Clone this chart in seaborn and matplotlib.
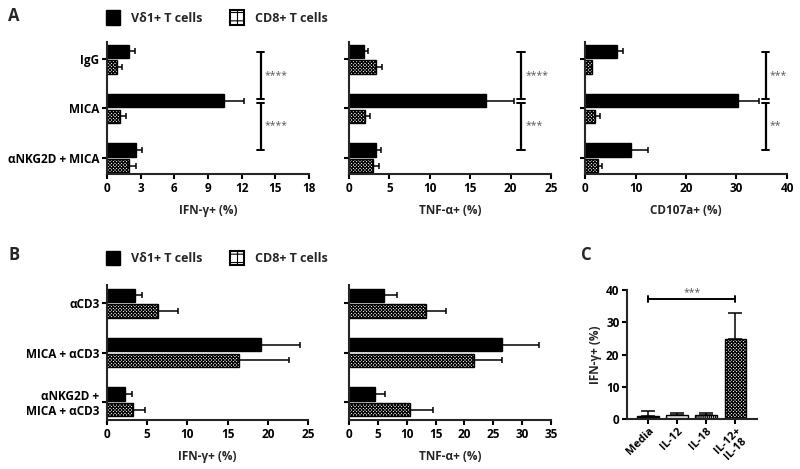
import numpy as np
import pandas as pd
import matplotlib
matplotlib.use("Agg")
import matplotlib.pyplot as plt
from matplotlib.patches import Patch
from matplotlib.container import BarContainer
import seaborn as sns

# ---------------- data ----------------
cells = ["Vδ1+ T cells", "CD8+ T cells"]

condA = ["IgG", "MICA", "αNKG2D + MICA"]
ifnA_v = [2.0, 10.4, 2.6]
ifnA_v_sem = [0.5, 1.8, 0.5]
ifnA_c = [0.9, 1.2, 2.0]
ifnA_c_sem = [0.4, 0.5, 0.6]

tnfA_v = [1.9, 16.9, 3.4]
tnfA_v_sem = [0.5, 3.5, 0.6]
tnfA_c = [3.3, 2.0, 3.0]
tnfA_c_sem = [0.8, 0.55, 0.7]

cdA_v = [6.3, 30.2, 9.2]
cdA_v_sem = [1.3, 4.3, 3.2]
cdA_c = [1.3, 1.9, 2.5]
cdA_c_sem = [0.0, 1.0, 0.9]

condB = ["αCD3", "MICA + αCD3", "αNKG2D +\nMICA + αCD3"]
ifnB_v = [3.5, 19.1, 2.2]
ifnB_v_sem = [0.9, 4.9, 0.9]
ifnB_c = [6.3, 16.4, 3.2]
ifnB_c_sem = [2.5, 6.2, 1.5]

tnfB_v = [6.0, 26.5, 4.45]
tnfB_v_sem = [2.4, 6.4, 1.8]
tnfB_c = [13.3, 21.6, 10.6]
tnfB_c_sem = [3.5, 4.9, 4.0]

condC = ["Media", "IL-12", "IL-18", "IL-12+\nIL-18"]
ifnC = [1.0, 1.2, 1.1, 24.7]
ifnC_sem = [1.5, 0.8, 0.85, 8.3]

starsA = [("****", "****"), ("****", "***"), ("***", "**")]

# ---------------- style ----------------
sns.set_theme(style="ticks")
plt.rcParams["font.family"] = ["Open Sans", "DejaVu Sans"]
plt.rcParams["font.weight"] = "bold"
plt.rcParams["hatch.linewidth"] = 0.8
plt.rcParams["axes.linewidth"] = 1.5
FS = 8.5
CHECK = "xxxxxxxxxx"

fig = plt.figure(figsize=(8, 4.69), dpi=100)
W, H = 800.0, 469.0


def add_ax(x0, x1, ytop, ybot):
    return fig.add_axes([x0 / W, 1 - ybot / H, (x1 - x0) / W, (ybot - ytop) / H])


def style_ax(ax):
    sns.despine(ax=ax)
    ax.tick_params(axis="both", direction="out", length=3.5, width=1.5,
                   labelsize=FS, pad=2, colors="black")
    for lab in ax.get_xticklabels() + ax.get_yticklabels():
        lab.set_fontweight("bold")


def bar_containers(ax):
    return [c for c in ax.containers if isinstance(c, BarContainer)]


def hbar_panel(ax, conds, v, vs, c, cs, xmax, step, xlabel, showy, ylim):
    df = pd.DataFrame({
        "cond": conds * 2,
        "val": list(v) + list(c),
        "cell": [cells[0]] * len(conds) + [cells[1]] * len(conds),
    })
    sns.barplot(data=df, y="cond", x="val", hue="cell", orient="h",
                palette=["black", "white"], width=0.63, gap=0.16,
                errorbar=None, legend=False, ax=ax,
                edgecolor="black", linewidth=1.0, saturation=1)
    sems = [vs, cs]
    for k, cont in enumerate(bar_containers(ax)):
        for j, p in enumerate(cont.patches):
            if k == 1:
                p.set_hatch(CHECK)
            yc = p.get_y() + p.get_height() / 2
            xv = p.get_width()
            ax.errorbar(xv, yc, xerr=[[0], [sems[k][j]]], fmt="none",
                        ecolor="black", elinewidth=1.1, capsize=2.5,
                        capthick=1.1, zorder=3)
    ax.set_xlim(0, xmax)
    ax.set_xticks(np.arange(0, xmax + 0.01, step))
    ax.set_ylim(*ylim)
    ax.set_ylabel("")
    ax.set_xlabel(xlabel, fontsize=FS, fontweight="bold", labelpad=7)
    if not showy:
        ax.set_yticklabels([])
    style_ax(ax)


ylimA = (2.33, -0.35)
ylimB = (2.37, -0.37)

axA1 = add_ax(107, 309, 42, 174)
axA2 = add_ax(349, 551, 42, 174)
axA3 = add_ax(585, 787, 42, 174)
hbar_panel(axA1, condA, ifnA_v, ifnA_v_sem, ifnA_c, ifnA_c_sem, 18, 3,
           "IFN-γ+ (%)", True, ylimA)
hbar_panel(axA2, condA, tnfA_v, tnfA_v_sem, tnfA_c, tnfA_c_sem, 25, 5,
           "TNF-α+ (%)", False, ylimA)
hbar_panel(axA3, condA, cdA_v, cdA_v_sem, cdA_c, cdA_c_sem, 40, 10,
           "CD107a+ (%)", False, ylimA)

# significance brackets panel A
for ax, xb, xmax, st in [(axA1, 13.7, 18, starsA[0]),
                         (axA2, 21.3, 25, starsA[1]),
                         (axA3, 35.8, 40, starsA[2])]:
    off = -0.157
    y0, ym, y1 = 0 + off, 1 + off, 2 + off
    d = 0.04
    capw = xmax * 0.018
    ax.plot([xb, xb], [y0, ym - d], color="black", lw=1.6, clip_on=False)
    ax.plot([xb, xb], [ym + d, y1], color="black", lw=1.6, clip_on=False)
    for yy in [y0, ym - d, ym + d, y1]:
        ax.plot([xb - capw, xb + capw], [yy, yy], color="black", lw=1.4,
                clip_on=False)
    ax.text(xb + xmax * 0.02, 0.34, st[0], fontsize=7.5, color="#555555",
            fontweight="normal", va="center", ha="left")
    ax.text(xb + xmax * 0.02, 1.34, st[1], fontsize=7.5, color="#555555",
            fontweight="normal", va="center", ha="left")

axB1 = add_ax(107, 308, 285, 420)
axB2 = add_ax(349, 551, 285, 420)
hbar_panel(axB1, condB, ifnB_v, ifnB_v_sem, ifnB_c, ifnB_c_sem, 25, 5,
           "IFN-γ+ (%)", True, ylimB)
hbar_panel(axB2, condB, tnfB_v, tnfB_v_sem, tnfB_c, tnfB_c_sem, 35, 5,
           "TNF-α+ (%)", False, ylimB)
for lab in axB1.get_yticklabels():
    lab.set_horizontalalignment("right")
    lab.set_multialignment("right")

# panel C
axC = add_ax(627, 757, 290, 419)
dfC = pd.DataFrame({"cond": condC, "val": ifnC})
sns.barplot(data=dfC, x="cond", y="val", hue="cond",
            palette=["black", "#e0e0e0", "#c8c8c8", "white"],
            width=0.74, errorbar=None, legend=False, ax=axC,
            edgecolor="black", linewidth=1.0, saturation=1)
hatchesC = ["", "", "||||||||", CHECK]
pats = [p for cont in bar_containers(axC) for p in cont.patches]
for j, p in enumerate(pats):
    p.set_hatch(hatchesC[j])
    xc = p.get_x() + p.get_width() / 2
    axC.errorbar(xc, p.get_height(), yerr=[[0], [ifnC_sem[j]]], fmt="none",
                 ecolor="black", elinewidth=1.1, capsize=5, capthick=1.1,
                 zorder=3)
axC.set_ylim(0, 40)
axC.set_yticks([0, 10, 20, 30, 40])
axC.set_xlim(-0.72, 3.74)
axC.set_xlabel("")
axC.set_ylabel("IFN-γ+ (%)", fontsize=FS, fontweight="bold", labelpad=3)
style_ax(axC)
axC.set_xticks(range(len(condC)))
axC.set_xticklabels(condC, rotation=45, ha="right", rotation_mode="anchor",
                    fontsize=8, fontweight="bold", linespacing=1.05,
                    multialignment="center")
axC.tick_params(axis="x", pad=1)
axC.plot([0, 3], [37.2, 37.2], color="black", lw=1.4)
for xx in [0, 3]:
    axC.plot([xx, xx], [36.2, 38.2], color="black", lw=1.4)
axC.text(1.5, 37.6, "***", fontsize=7.5, color="#555555", ha="center",
         va="bottom", fontweight="normal")

# legends and panel letters
handles = [Patch(facecolor="black", edgecolor="black", label=cells[0]),
           Patch(facecolor="white", edgecolor="black", hatch="++",
                 linewidth=1.5, label=cells[1])]
for yc in [17.5, 258]:
    fig.legend(handles=handles, loc="center left",
               bbox_to_anchor=(106 / W, 1 - yc / H), ncol=2, frameon=False,
               handlelength=1.1, handleheight=1.4,
               handletextpad=0.9, columnspacing=2.2, borderpad=0,
               borderaxespad=0,
               prop={"weight": "bold", "size": FS + 0.5})

fig.text(14 / W, 1 - 16 / H, "A", fontsize=12, fontweight="bold",
         ha="center", va="center")
fig.text(14 / W, 1 - 255 / H, "B", fontsize=12, fontweight="bold",
         ha="center", va="center")
fig.text(586 / W, 1 - 255 / H, "C", fontsize=12, fontweight="bold",
         ha="center", va="center")

fig.savefig("out.png", dpi=100)
